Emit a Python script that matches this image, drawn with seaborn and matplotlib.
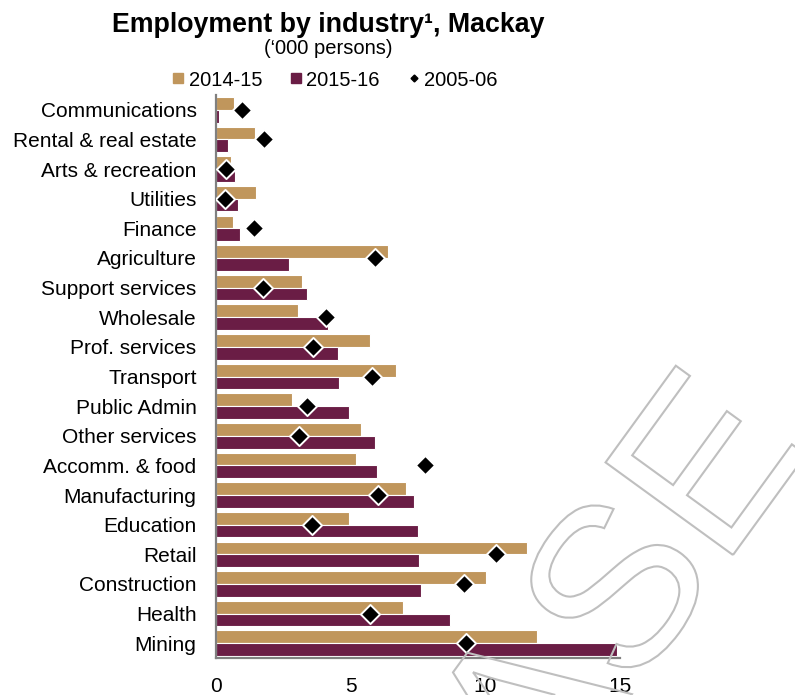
import numpy as np
import pandas as pd
import matplotlib
matplotlib.use("Agg")
import matplotlib.pyplot as plt
import seaborn as sns
from matplotlib.lines import Line2D
from matplotlib.textpath import TextPath
from matplotlib.font_manager import FontProperties
from matplotlib.patches import PathPatch
from matplotlib.transforms import Affine2D, IdentityTransform

industries = ["Communications", "Rental & real estate", "Arts & recreation", "Utilities",
              "Finance", "Agriculture", "Support services", "Wholesale", "Prof. services",
              "Transport", "Public Admin", "Other services", "Accomm. & food",
              "Manufacturing", "Education", "Retail", "Construction", "Health", "Mining"]
v1415 = [0.66, 1.43, 0.56, 1.49, 0.64, 6.38, 3.19, 3.05, 5.70, 6.69, 2.83, 5.38, 5.19,
         7.05, 4.92, 11.55, 10.02, 6.95, 11.90]
v1516 = [0.10, 0.44, 0.72, 0.82, 0.90, 2.70, 3.37, 4.15, 4.52, 4.57, 4.93, 5.90, 5.96,
         7.37, 7.50, 7.53, 7.60, 8.68, 14.90]
v0506 = [0.95, 1.80, 0.38, 0.35, 1.40, 5.89, 1.76, 4.07, 3.60, 5.80, 3.39, 3.10, 7.75,
         6.03, 3.57, 10.40, 9.20, 5.71, 9.29]
series_names = ["2014-15", "2015-16", "2005-06"]
xticks = [0, 5, 10, 15]

TAN = "#C0965C"
MAROON = "#6A1D45"
GREY = "#808080"

sns.set_style("white")
plt.rcParams["font.family"] = ["Liberation Sans", "DejaVu Sans"]
plt.rcParams["text.color"] = "black"
plt.rcParams["xtick.color"] = "black"
plt.rcParams["ytick.color"] = "black"

df = pd.DataFrame({
    "industry": industries * 2,
    "year": [series_names[0]] * len(industries) + [series_names[1]] * len(industries),
    "value": v1415 + v1516,
})

fig = plt.figure(figsize=(7.95, 6.95), dpi=100)
ax = fig.add_axes([216 / 795, 1 - 658 / 695, 404 / 795, 563 / 695])

sns.barplot(data=df, y="industry", x="value", hue="year", order=industries,
            palette=[TAN, MAROON], width=0.86, orient="h", saturation=1,
            edgecolor="white", linewidth=0.8, legend=False, ax=ax)
sns.scatterplot(x=v0506, y=np.arange(len(industries)), marker="D", s=95,
                color="black", edgecolor="white", linewidth=1.4, zorder=4,
                legend=False, ax=ax)

ax.set_xlim(0, 15)
ax.set_ylim(len(industries) - 0.5, -0.5)
ax.set_xticks(xticks)
ax.set_xticklabels([str(t) for t in xticks])
ax.set_yticks(np.arange(len(industries)))
ax.set_yticklabels(industries)
ax.set_xlabel("")
ax.set_ylabel("")
ax.tick_params(axis="y", length=0, pad=14, labelsize=15, labelcolor="black")
ax.tick_params(axis="x", length=0, pad=14, labelsize=15, labelcolor="black")
for s in ["top", "right"]:
    ax.spines[s].set_visible(False)
for s in ["left", "bottom"]:
    ax.spines[s].set_color(GREY)
    ax.spines[s].set_linewidth(1.6)
ax.grid(False)

fig.text(328 / 795, 1 - 25 / 695, "Employment by industry\u00b9, Mackay", ha="center",
         va="center", fontsize=19.3, fontweight="bold", color="black")
fig.text(328 / 795, 1 - 49 / 695, "(\u2018000 persons)", ha="center", va="center",
         fontsize=14.5, color="black")

handles = [
    Line2D([], [], marker="s", color=TAN, linestyle="none", markersize=6.5),
    Line2D([], [], marker="s", color=MAROON, linestyle="none", markersize=6.5),
    Line2D([], [], marker="D", color="black", linestyle="none", markersize=3.5),
]
leg = fig.legend(handles, series_names, loc="center",
                 bbox_to_anchor=(335 / 795, 1 - 80 / 695),
                 ncol=3, frameon=False, fontsize=14.5, handlelength=0.6,
                 handletextpad=0.2, columnspacing=1.4, borderaxespad=0, borderpad=0)
for t in leg.get_texts():
    t.set_color("black")

# watermark outline text
fp = FontProperties(family="Liberation Sans")
size = 229
tp_full = TextPath((0, 0), "RELEASE", size=size, prop=fp)
tp_e = TextPath((0, 0), "E", size=size, prop=fp)
ee = tp_e.get_extents()
fe = tp_full.get_extents()
e_left = fe.x1 - (ee.x1 - ee.x0)
tr = Affine2D().translate(-e_left, 0).rotate_deg(54).translate(733, 695 - 555)
wm = PathPatch(tr.transform_path(tp_full), transform=IdentityTransform(),
               facecolor="none", edgecolor="#BFBFBF", lw=1.5, zorder=10)
fig.add_artist(wm)

fig.savefig("out.png", dpi=100)
